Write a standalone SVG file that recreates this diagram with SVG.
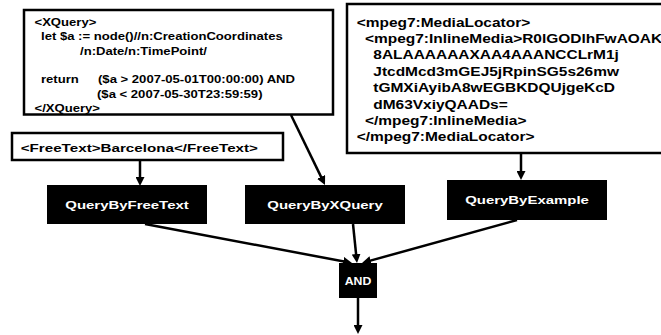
<svg xmlns="http://www.w3.org/2000/svg" width="661" height="335" viewBox="0 0 661 335">
<style>
.box{fill:#fff;stroke:#000;stroke-width:2.5}
.blk{fill:#000;stroke:none}
.t{font-family:"Liberation Sans",Arial,sans-serif;font-weight:bold;fill:#000}
.xq{font-size:10px}
.ml{font-size:12px}
.ft{font-size:11px}
.lbl{font-family:"Liberation Sans",Arial,sans-serif;font-weight:bold;fill:#fff;font-size:11.5px;text-anchor:middle}
.and{font-size:10px}
.c{fill:none;stroke:#000;stroke-width:2.5;marker-end:url(#ah)}
</style>
<defs>
<marker id="ah" viewBox="0 0 9 9" markerWidth="9" markerHeight="9" refX="5" refY="4.5" orient="auto" markerUnits="userSpaceOnUse">
<path d="M0,0 L9,4.5 L0,9 z" fill="#000"/>
</marker>
</defs>
<rect width="661" height="335" fill="#fff"/>

<g id="xquery">
<rect class="box" x="24" y="10" width="309" height="104.5"/>
<text class="t xq" transform="matrix(1.31 0 0 1 34.5 25.7)">&lt;XQuery&gt;</text>
<text class="t xq" transform="matrix(1.31 0 0 1 41 40.1)">let $a := node()//n:CreationCoordinates</text>
<text class="t xq" transform="matrix(1.31 0 0 1 80 54.5)">/n:Date/n:TimePoint/</text>
<text class="t xq" transform="matrix(1.31 0 0 1 41 83.3)">return</text>
<text class="t xq" transform="matrix(1.31 0 0 1 98 83.3)">($a &gt; 2007-05-01T00:00:00) AND</text>
<text class="t xq" transform="matrix(1.31 0 0 1 97 97.7)">($a &lt; 2007-05-30T23:59:59)</text>
<text class="t xq" transform="matrix(1.31 0 0 1 34.5 112.1)">&lt;/XQuery&gt;</text>
</g>

<g id="medialocator">
<rect class="box" x="347" y="4" width="330" height="149"/>
<text class="t ml" transform="matrix(1.29 0 0 1 356.7 26.5)">&lt;mpeg7:MediaLocator&gt;</text>
<text class="t ml" transform="matrix(1.29 0 0 1 365 42.9)">&lt;mpeg7:InlineMedia&gt;R0lGODlhFwAOAKI</text>
<text class="t ml" transform="matrix(1.29 0 0 1 373.3 59.3)">8ALAAAAAAXAA4AAANCCLrM1j</text>
<text class="t ml" transform="matrix(1.29 0 0 1 373.3 75.7)">JtcdMcd3mGEJ5jRpinSG5s26mw</text>
<text class="t ml" transform="matrix(1.29 0 0 1 373.3 92.1)">tGMXiAyibA8wEGBKDQUjgeKcD</text>
<text class="t ml" transform="matrix(1.29 0 0 1 373.3 108.5)">dM63VxiyQAADs=</text>
<text class="t ml" transform="matrix(1.29 0 0 1 365 124.9)">&lt;/mpeg7:InlineMedia&gt;</text>
<text class="t ml" transform="matrix(1.29 0 0 1 356.7 141.3)">&lt;/mpeg7:MediaLocator&gt;</text>
</g>

<g id="freetext">
<rect class="box" x="12" y="133" width="271" height="27"/>
<text class="t ft" transform="matrix(1.38 0 0 1 20.7 152)">&lt;FreeText&gt;Barcelona&lt;/FreeText&gt;</text>
</g>

<g id="qbft">
<rect class="blk" x="47" y="185" width="160" height="39"/>
<text class="lbl" transform="matrix(1.3 0 0 1 127 208.6)">QueryByFreeText</text>
</g>

<g id="qbxq">
<rect class="blk" x="245" y="185" width="160" height="39"/>
<text class="lbl" transform="matrix(1.3 0 0 1 325 208.6)">QueryByXQuery</text>
</g>

<g id="qbe">
<rect class="blk" x="447" y="180" width="160" height="40"/>
<text class="lbl" transform="matrix(1.3 0 0 1 527 204.3)">QueryByExample</text>
</g>

<g id="and">
<rect class="blk" x="339" y="263" width="38" height="35"/>
<text class="lbl and" transform="matrix(1.23 0 0 1 358 284.5)">AND</text>
</g>

<g id="connectors">
<line class="c" x1="140" y1="161" x2="140" y2="182"/>
<line class="c" x1="291" y1="115" x2="323.25" y2="181.4"/>
<line class="c" x1="521" y1="154" x2="521" y2="176"/>
<line class="c" x1="145" y1="224" x2="348.1" y2="262.26"/>
<line class="c" x1="353" y1="224" x2="356.6" y2="259"/>
<line class="c" x1="517" y1="220" x2="365.85" y2="261.9"/>
<line class="c" x1="358" y1="298" x2="358" y2="330"/>
</g>
</svg>
